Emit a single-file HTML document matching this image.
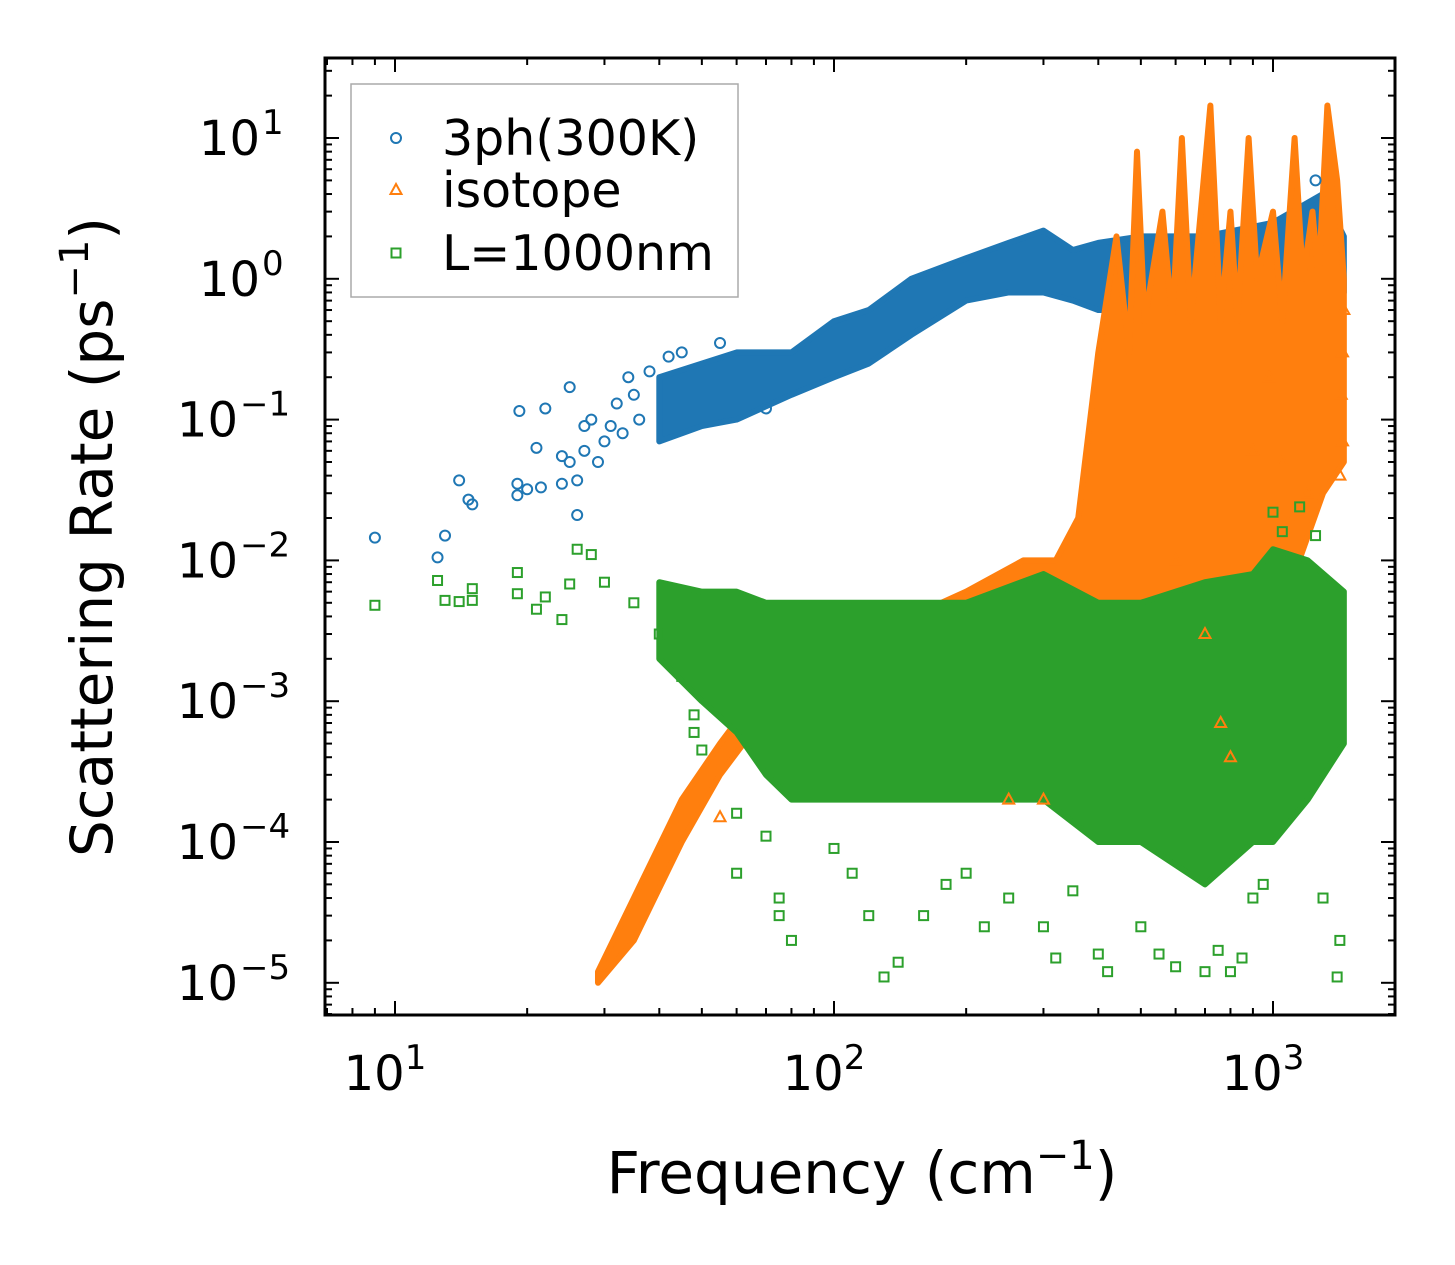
<!DOCTYPE html>
<html><head><meta charset="utf-8"><style>
html,body{margin:0;padding:0;background:#fff}
svg{display:block;font-family:"DejaVu Sans","Liberation Sans",sans-serif}
</style></head><body>
<svg id="chart" width="1455" height="1265" viewBox="0 0 1455 1265" xmlns="http://www.w3.org/2000/svg">
<g id="bands"></g>
<g id="marks"></g>
<g id="axes"></g>
</svg>
<script>
// ---- data ----
const xDecades = [1, 2, 3];
const yDecades = [1, 0, -1, -2, -3, -4, -5];
// dense band envelopes: [freq, low, high]
const blueBand = [[40,0.07,0.2],[50,0.09,0.25],[60,0.1,0.3],[80,0.15,0.3],[100,0.2,0.5],[120,0.25,0.6],[150,0.4,1.0],[200,0.7,1.4],[250,0.8,1.8],[300,0.8,2.2],[350,0.7,1.6],[400,0.6,1.8],[500,0.6,2.0],[700,0.6,2.0],[1000,0.6,2.5],[1300,0.6,4],[1450,0.8,2]];
const orangeHigh = [[29,1.2e-5],[35,4e-5],[45,2e-4],[55,5e-4],[65,1e-3],[80,2e-3],[100,3e-3],[150,4e-3],[200,6e-3],[270,1e-2],[320,1e-2],[360,2e-2],[400,0.3],[440,2],[470,0.3],[490,8],[510,0.5],[560,3],[590,0.5],[620,10],[650,0.5],[720,17],[760,0.5],[800,3],[830,0.5],[880,10],[920,1],[1000,3],[1050,0.5],[1120,10],[1170,1],[1230,3],[1270,1],[1330,17],[1400,5],[1450,1]];
const orangeLow = [[29,1e-5],[35,2e-5],[45,1e-4],[55,3e-4],[65,6e-4],[80,1e-3],[100,1.5e-3],[150,2e-3],[200,3e-3],[270,3e-3],[320,4e-3],[400,5e-3],[500,5e-3],[700,4e-3],[1000,3e-3],[1300,0.03],[1450,0.05]];
const greenBand = [[40,2e-3,7e-3],[50,1e-3,6e-3],[60,6e-4,6e-3],[70,3e-4,5e-3],[80,2e-4,5e-3],[100,2e-4,5e-3],[150,2e-4,5e-3],[200,2e-4,5e-3],[300,2e-4,8e-3],[400,1e-4,5e-3],[500,1e-4,5e-3],[700,5e-5,7e-3],[900,1e-4,8e-3],[1000,1e-4,1.2e-2],[1200,2e-4,1e-2],[1450,5e-4,6e-3]];
// sparse individual points: [freq, value]
const bluePts = [[9,0.0145],[12.5,0.0105],[13,0.015],[14,0.037],[15,0.025],[14.7,0.027],[19,0.035],[19.2,0.115],[19,0.029],[20,0.032],[21,0.063],[21.5,0.033],[22,0.12],[24,0.035],[24,0.055],[25,0.05],[25,0.17],[26,0.037],[26,0.021],[27,0.06],[27,0.09],[28,0.1],[29,0.05],[30,0.07],[31,0.09],[32,0.13],[33,0.08],[34,0.2],[35,0.15],[36,0.1],[38,0.22],[42,0.28],[45,0.3],[55,0.35],[70,0.12],[1250,5]];
const orangePts = [[1450,0.6],[1440,0.3],[1430,0.15],[1440,0.07],[1420,0.04],[1100,0.02],[900,0.06],[980,0.2],[1050,0.05],[1200,0.03],[600,0.01],[700,0.003],[760,0.0007],[800,0.0004],[300,0.0002],[250,0.0002],[55,0.00015]];
const greenPts = [[9,0.0048],[12.5,0.0072],[13,0.0052],[14,0.0051],[15,0.0063],[15,0.0052],[19,0.0082],[19,0.0058],[21,0.0045],[22,0.0055],[24,0.0038],[25,0.0068],[26,0.012],[28,0.011],[30,0.007],[35,0.005],[40,0.003],[45,0.0015],[48,0.0008],[48,0.0006],[50,0.00045],[60,0.00016],[60,0.00006],[70,0.00011],[75,0.00004],[75,0.00003],[80,0.00002],[100,0.00009],[110,0.00006],[120,0.00003],[130,0.000011],[140,0.000014],[160,0.00003],[180,0.00005],[200,0.00006],[220,0.000025],[250,0.00004],[300,0.000025],[320,0.000015],[350,0.000045],[400,0.000016],[420,0.000012],[500,0.000025],[550,0.000016],[600,0.000013],[700,0.000012],[750,0.000017],[800,0.000012],[850,0.000015],[900,0.00004],[950,0.00005],[1000,0.022],[1050,0.016],[1150,0.024],[1250,0.015],[1300,0.00004],[1400,0.000011],[1420,0.00002]];

const X0=395, XD=439, Y0=138, YD=140.8;
const L=325,R=1395,T=58,B=1015;
function sx(v){return X0+(Math.log10(v)-1)*XD;}
function sy(v){return Y0+(1-Math.log10(v))*YD;}
const NS="http://www.w3.org/2000/svg";
function mk(tag,attrs,parent){const e=document.createElementNS(NS,tag);for(const k in attrs)e.setAttribute(k,attrs[k]);parent.appendChild(e);return e;}
const bands=document.getElementById('bands'),marks=document.getElementById('marks'),axes=document.getElementById('axes');

function bandPoly(hi,lo,color,name){
  const pts=hi.map(d=>sx(d[0])+','+sy(d[1])).concat(lo.slice().reverse().map(d=>sx(d[0])+','+sy(d[1])));
  const p=mk('polygon',{points:pts.join(' '),fill:color,stroke:color,'stroke-width':6,'stroke-linejoin':'round'},bands);
  
  
}
bandPoly(blueBand.map(d=>[d[0],d[2]]),blueBand.map(d=>[d[0],d[1]]),'#1f77b4','blue-dense-band');
bandPoly(orangeHigh,orangeLow,'#ff7f0e','orange-dense-band');
bandPoly(greenBand.map(d=>[d[0],d[2]]),greenBand.map(d=>[d[0],d[1]]),'#2ca02c','green-dense-band');

function circle(x,y,c,parent){const e=mk('circle',{cx:x,cy:y,r:5,fill:'none',stroke:c,'stroke-width':2},parent);return e;}
function tri(x,y,c,parent){return mk('polygon',{points:`${x},${y-6} ${x-5.5},${y+4} ${x+5.5},${y+4}`,fill:'none',stroke:c,'stroke-width':2},parent);}
function sq(x,y,c,parent){return mk('rect',{x:x-4.5,y:y-4.5,width:9,height:9,fill:'none',stroke:c,'stroke-width':2},parent);}
bluePts.forEach(d=>{const e=circle(sx(d[0]),sy(d[1]),'#1f77b4',marks);

});
orangePts.forEach(d=>{const e=tri(sx(d[0]),sy(d[1]),'#ff7f0e',marks);

});
greenPts.forEach(d=>{const e=sq(sx(d[0]),sy(d[1]),'#2ca02c',marks);

});

// frame
const fr=mk('rect',{x:L,y:T,width:R-L,height:B-T,fill:'none',stroke:'#000','stroke-width':3},axes);


for(let d=0; d<=3; d++){
  for(let m=1;m<=9;m++){
    const v=m*Math.pow(10,d); const x=sx(v); if(x<L||x>R) continue;
    const len=m===1?14:7;
    mk('line',{x1:x,y1:B,x2:x,y2:B-len,stroke:'#000','stroke-width':2},axes);
    mk('line',{x1:x,y1:T,x2:x,y2:T+len,stroke:'#000','stroke-width':2},axes);
  }
}
xDecades.forEach(d=>{
  const t=mk('text',{x:sx(Math.pow(10,d))-10,y:1090,'font-size':48,'text-anchor':'middle'},axes);
  
  
  t.textContent='10';
  const s=mk('tspan',{dy:-21,'font-size':34},t); s.textContent=String(d);
});
for(let d=-6; d<=1; d++){
  for(let m=1;m<=9;m++){
    const v=m*Math.pow(10,d); const y=sy(v); if(y<T||y>B) continue;
    const len=m===1?14:7;
    mk('line',{x1:L,y1:y,x2:L+len,y2:y,stroke:'#000','stroke-width':2},axes);
    mk('line',{x1:R,y1:y,x2:R-len,y2:y,stroke:'#000','stroke-width':2},axes);
  }
}
yDecades.forEach(d=>{
  const y=sy(Math.pow(10,d));
  const t=mk('text',{x:d<0?238:260,y:y+17,'font-size':48,'text-anchor':'end'},axes);
  
  
  t.textContent='10';
  const s=mk('tspan',{x:d<0?240:262,dy:-21,'font-size':34,'text-anchor':'start'},t); s.textContent=d<0?'\u2212'+(-d):String(d);
});
const xt=mk('text',{x:862,y:1193,'font-size':58,'text-anchor':'middle'},axes);


xt.textContent='Frequency (cm';
const xs=mk('tspan',{dy:-24,'font-size':40},xt); xs.textContent='\u22121';
const xc=mk('tspan',{dy:24},xt); xc.textContent=')';
const yt=mk('text',{x:0,y:0,'font-size':58,'text-anchor':'middle',transform:'translate(112,537) rotate(-90)'},axes);


yt.textContent='Scattering Rate (ps';
const ys=mk('tspan',{dy:-24,'font-size':40},yt); ys.textContent='\u22121';
const yc=mk('tspan',{dy:24},yt); yc.textContent=')';
const lg=mk('g',{},axes);


mk('rect',{x:351,y:84,width:387,height:213,fill:'#fff',stroke:'#aaa','stroke-width':1.5},lg);
const entries=[['3ph(300K)','#1f77b4',circle,138],['isotope','#ff7f0e',tri,190],['L=1000nm','#2ca02c',sq,253]];
entries.forEach(e=>{
  const g=mk('g',{},lg);
  
  
  e[2](396,e[3],e[1],g);
  const t=mk('text',{x:442,y:e[3]+17,'font-size':49},g); t.textContent=e[0];
});
</script>
</body></html>
